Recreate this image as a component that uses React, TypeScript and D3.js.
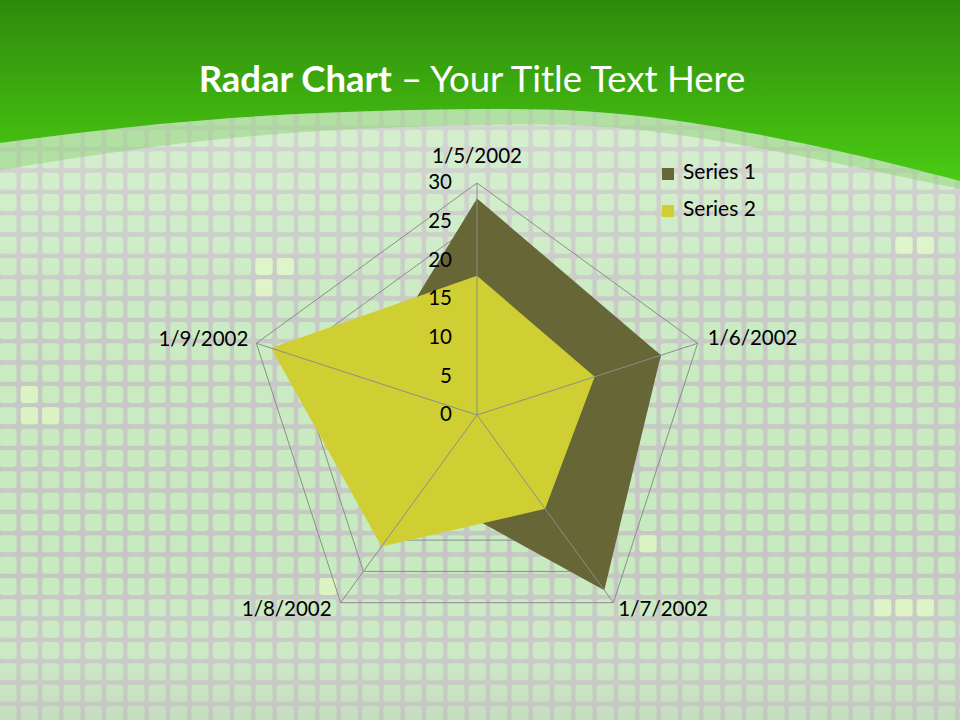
import * as d3 from 'd3';

// Chart data
const categories = ['1/5/2002', '1/6/2002', '1/7/2002', '1/8/2002', '1/9/2002'];
const series1 = [28, 25, 28, 12, 15];
const series2 = [18, 16, 15, 21, 28];
const seriesNames = ['Series 1', 'Series 2'];
const seriesColours = ['#676637', '#cfcf34'];
const tickValues = [0, 5, 10, 15, 20, 25, 30];

// Background curve (green header edge) and the light band under it
const headerEdge: [number, number][] = [
  [0, 143], [160, 124], [320, 113], [480, 109], [640, 116], [820, 147], [960, 181],
];
const bandEdge: [number, number][] = [
  [0, 170], [160, 146], [320, 131], [480, 125], [640, 130], [820, 160], [960, 189],
];
// a few brighter tiles (column, row)
const brightTiles: [number, number][] = [
  [12, 12], [13, 12], [1, 18], [1, 19], [2, 19], [42, 11], [42, 28], [43, 11],
  [15, 27], [30, 25], [41, 28], [43, 28], [12, 13],
];

const W = 960;
const H = 720;
const FONT = 'Lato, "Open Sans", sans-serif';

function Background(): JSX.Element {
  const step = 960 / 45;
  const cols = d3.range(0, 46);
  const rows = d3.range(0, 34);
  const line = d3.line().curve(d3.curveNatural);
  const headerPath = `${line(headerEdge)} L${W},0 L0,0 Z`;
  const bandPath = `${line(headerEdge)} L${W},${bandEdge[bandEdge.length - 1][1]} ${line(
    [...bandEdge].reverse(),
  )!.slice(1)} Z`;

  return (
    <g>
      <defs>
        <linearGradient id="green" x1="0" x2="0" y1="0" y2="1">
          <stop offset="0%" stopColor="#2f8a0c" />
          <stop offset="100%" stopColor="#4acb13" />
        </linearGradient>
        <linearGradient id="fade" x1="0" x2="0" y1="0" y2="1">
          <stop offset="0%" stopColor="#ffffff" stopOpacity={0.35} />
          <stop offset="45%" stopColor="#ffffff" stopOpacity={0.05} />
          <stop offset="80%" stopColor="#ffffff" stopOpacity={0} />
          <stop offset="100%" stopColor="#c0c4bc" stopOpacity={0.35} />
        </linearGradient>
      </defs>
      <rect width={W} height={H} fill="#c5c8c2" />
      {rows.map(r =>
        cols.map(c => (
          <rect
            key={`${r}-${c}`}
            x={c * step - 0.5}
            y={2 + r * step}
            width={17}
            height={17}
            rx={3}
            fill="#c8eac0"
          />
        )),
      )}
      {brightTiles.map(([c, r]) => (
        <rect
          key={`b-${c}-${r}`}
          x={c * step - 0.5}
          y={2 + r * step}
          width={17}
          height={17}
          rx={3}
          fill="#dcf3c2"
        />
      ))}
      <rect width={W} height={H} fill="url(#fade)" />
      <path d={bandPath} fill="#8fd27a" fillOpacity={0.5} />
      <path d={headerPath} fill="url(#green)" />
    </g>
  );
}

function Radar(): JSX.Element {
  const cx = 477;
  const cy = 415;
  const r = d3.scaleLinear().domain([0, 30]).range([0, 232]);
  const angle = (i: number) => (i * 2 * Math.PI) / categories.length;
  const pt = (i: number, v: number): [number, number] => [
    cx + Math.sin(angle(i)) * r(v),
    cy - Math.cos(angle(i)) * r(v),
  ];
  const poly = (vals: number[]) =>
    d3.line().curve(d3.curveLinearClosed)(vals.map((v, i) => pt(i, v))) || '';

  const labelPos = [
    { dx: 0, dy: -25, anchor: 'middle' },
    { dx: 10, dy: -3, anchor: 'start' },
    { dx: 5, dy: 8, anchor: 'start' },
    { dx: -9, dy: 8, anchor: 'end' },
    { dx: -8, dy: -2, anchor: 'end' },
  ];

  return (
    <g fontFamily={FONT}>
      {tickValues.slice(1).map(t => (
        <path
          key={t}
          d={poly(categories.map(() => t))}
          fill="none"
          stroke="#8c8c8c"
          strokeWidth={1}
        />
      ))}
      <path d={poly(series1)} fill={seriesColours[0]} />
      <path d={poly(series2)} fill={seriesColours[1]} />
      {categories.map((c, i) => {
        const [x, y] = pt(i, 30);
        return <line key={c} x1={cx} y1={cy} x2={x} y2={y} stroke="#8c8c8c" strokeWidth={1} />;
      })}
      {categories.map((c, i) => {
        const [x, y] = pt(i, 30);
        const p = labelPos[i];
        return (
          <text
            key={c}
            x={x + p.dx}
            y={y + p.dy}
            textAnchor={p.anchor}
            dominantBaseline="middle"
            fontSize={20.5}
            fill="#000"
          >
            {c}
          </text>
        );
      })}
      {tickValues.map(t => (
        <text
          key={t}
          x={cx - 25}
          y={cy - r(t) + 1}
          textAnchor="end"
          dominantBaseline="middle"
          fontSize={20.5}
          fill="#000"
        >
          {t}
        </text>
      ))}
      {seriesNames.map((s, i) => (
        <g key={s} transform={`translate(662,${168 + i * 37})`}>
          <rect width={12} height={12} fill={seriesColours[i]} />
          <text x={21} y={6} dominantBaseline="middle" fontSize={21} fill="#000">
            {s}
          </text>
        </g>
      ))}
    </g>
  );
}

export default function App(): JSX.Element {
  return (
    <div style={{ position: 'fixed', left: 0, top: 0, width: W, height: H }}>
      <svg width={W} height={H} style={{ display: 'block' }}>
        <Background />
        <text
          x={472}
          y={83}
          textAnchor="middle"
          dominantBaseline="middle"
          fontFamily={FONT}
          fontSize={36.5}
          fill="#ffffff"
        >
          <tspan fontWeight="bold">Radar Chart</tspan>
          <tspan> – Your Title Text Here</tspan>
        </text>
        <Radar />
      </svg>
    </div>
  );
}
